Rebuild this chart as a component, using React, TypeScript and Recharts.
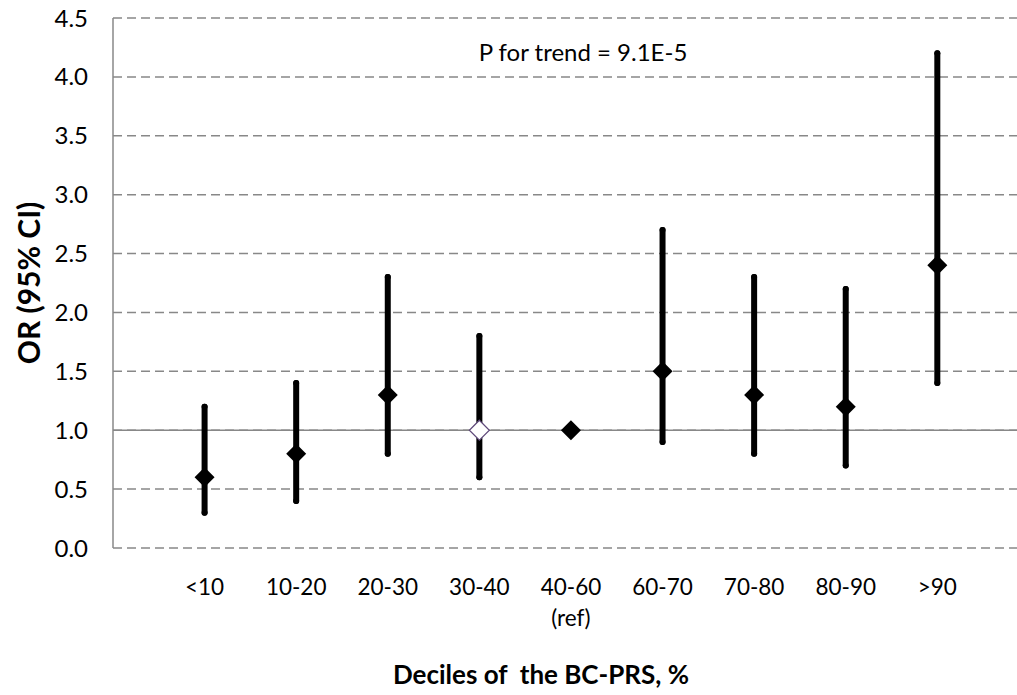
import { ComposedChart, Scatter, ErrorBar, XAxis, YAxis, CartesianGrid, ReferenceLine, Label } from 'recharts';

const categories = ['<10', '10-20', '20-30', '30-40', '40-60', '60-70', '70-80', '80-90', '>90'];
const subLabels = ['', '', '', '', '(ref)', '', '', '', ''];
const orValues = [0.6, 0.8, 1.3, 1.0, 1.0, 1.5, 1.3, 1.2, 2.4];
const ciLower = [0.3, 0.4, 0.8, 0.6, null, 0.9, 0.8, 0.7, 1.4];
const ciUpper = [1.2, 1.4, 2.3, 1.8, null, 2.7, 2.3, 2.2, 4.2];
const yTicks = [0, 0.5, 1.0, 1.5, 2.0, 2.5, 3.0, 3.5, 4.0, 4.5];

const FONT = 'Lato, "Noto Sans", sans-serif';

const data = categories.map((c, i) => ({
  x: i + 1,
  cat: c,
  or: orValues[i],
  // ErrorBar wants distances from the point, not the bounds
  err: ciLower[i] == null ? null : [orValues[i] - (ciLower[i] as number), (ciUpper[i] as number) - orValues[i]],
}));

function Diamond(props: any) {
  const { cx, cy, payload } = props;
  const r = 10;
  const hollow = payload.cat === '30-40';
  return (
    <polygon
      points={`${cx},${cy - r} ${cx + r},${cy} ${cx},${cy + r} ${cx - r},${cy}`}
      fill={hollow ? '#fff' : '#000'}
      stroke={hollow ? '#5f497a' : '#000'}
      strokeWidth={hollow ? 1.2 : 0}
    />
  );
}

function XTick(props: any) {
  const { x, y, payload } = props;
  const i = payload.value - 1;
  return (
    <g>
      <text x={x} y={y + 39} textAnchor="middle" fontSize={22.5} fontFamily={FONT} fill="#000">
        {categories[i]}
      </text>
      {subLabels[i] && (
        <text x={x} y={y + 70} textAnchor="middle" fontSize={22.5} fontFamily={FONT} fill="#000">
          {subLabels[i]}
        </text>
      )}
    </g>
  );
}

export default function App() {
  return (
    <div style={{ position: 'absolute', left: 0, top: 0, width: 1017, height: 695, background: '#fff' }}>
      <ComposedChart width={1017} height={695} data={data} margin={{ top: 18, right: 0, bottom: 0, left: 0 }}>
        <CartesianGrid vertical={false} stroke="#888" strokeWidth={1.5} strokeDasharray="9 5" />
        <XAxis
          type="number"
          dataKey="x"
          domain={[0, 9.87]}
          ticks={[1, 2, 3, 4, 5, 6, 7, 8, 9]}
          axisLine={false}
          tickLine={false}
          height={147}
          tick={<XTick />}
          interval={0}
        >
          <Label
            content={({ viewBox }: any) => (
              <text
                x={viewBox.x + viewBox.width / 2 - 24}
                y={viewBox.y + viewBox.height - 11}
                textAnchor="middle"
                fontSize={26}
                fontWeight="bold"
                fontFamily={FONT}
                fill="#000"
                style={{ whiteSpace: 'pre' }}
              >
                Deciles of  the BC-PRS, %
              </text>
            )}
          />
        </XAxis>
        <YAxis
          type="number"
          domain={[0, 4.5]}
          ticks={yTicks}
          width={113}
          tickFormatter={(v: number) => v.toFixed(1)}
          axisLine={{ stroke: '#888', strokeWidth: 1.5 }}
          tickLine={false}
          tickSize={0}
          tickMargin={25}
          tick={{ fontSize: 24, fontFamily: FONT, fill: '#000' }}
        >
          <Label
            content={({ viewBox }: any) => {
              const cx = 28;
              const cy = viewBox.y + viewBox.height / 2;
              return (
                <text
                  x={cx}
                  y={cy}
                  transform={`rotate(-90, ${cx}, ${cy})`}
                  textAnchor="middle"
                  dominantBaseline="central"
                  fontSize={30}
                  fontWeight="bold"
                  fontFamily={FONT}
                  fill="#000"
                >
                  OR (95% CI)
                </text>
              );
            }}
          />
        </YAxis>
        <ReferenceLine y={1} stroke="#888" strokeWidth={1.5} />
        <ReferenceLine y={4.5} stroke="none">
          <Label
            content={({ viewBox }: any) => (
              <text x={583} y={viewBox.y + 43} textAnchor="middle" fontSize={24} fontFamily={FONT} fill="#000">
                P for trend = 9.1E-5
              </text>
            )}
          />
        </ReferenceLine>
        <Scatter dataKey="or" shape={<Diamond />} isAnimationActive={false}>
          <ErrorBar
            dataKey="err"
            direction="y"
            width={0}
            stroke="#000"
            strokeWidth={6}
            strokeLinecap="round"
            isAnimationActive={false}
          />
        </Scatter>
      </ComposedChart>
    </div>
  );
}
